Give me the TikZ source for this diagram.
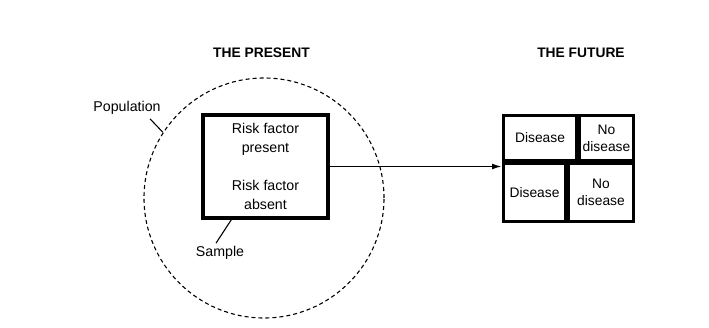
\documentclass[tikz,border=0pt]{standalone}
\usepackage{fontspec}
\setmainfont{Liberation Sans}
\usepackage{tikz}
\usetikzlibrary{arrows.meta, positioning}

\begin{document}
\begin{tikzpicture}[x=1pt, y=-1pt, >={Latex[length=10pt, width=6pt]}, font=\fontsize{14.2}{19}\selectfont]

\useasboundingbox (0,0) rectangle (709,328);

\tikzset{
  heading/.style = {font=\bfseries\fontsize{13.8}{16}\selectfont},
  label/.style = {align=center, inner sep=1pt},
  cellbox/.style = {draw, line width=3pt, align=center, inner sep=1pt, font=\fontsize{13.8}{17}\selectfont},
}

\node[heading] (present-title) at (261.5,53) {THE PRESENT};
\node[heading] (future-title) at (581,53) {THE FUTURE};

% population and sample
\node[draw, circle, dash pattern=on 4pt off 3pt, line width=1.1pt, minimum size=240pt, inner sep=0pt] (population) at (264,198) {};
\node[draw, line width=3.2pt, minimum width=125pt, minimum height=103pt] (sample) at (265.5,166.5) {};
\node[label] (factor-present) at (265.5,139) {Risk factor\\present};
\node[label] (factor-absent) at (265.5,195) {Risk factor\\absent};

\node[label] (population-label) at (127,108) {Population};
\node[label] (sample-label) at (220,253) {Sample};

\draw[line width=1.1pt] ([xshift=23pt, yshift=-3pt]population-label.south) -- (population.147);
\draw[line width=1.1pt] ([xshift=-4pt, yshift=2pt]sample-label.north) -- ([xshift=30pt]sample.south west);

% outcome cells
\begin{scope}[node distance = 0pt]
\node[cellbox, minimum width=73pt, minimum height=45pt, anchor=north west] (disease-top) at (502,114) {Disease};
\node[cellbox, minimum width=54pt, minimum height=45pt, right = of disease-top] (no-disease-top) {No\\disease};
\node[cellbox, minimum width=62pt, minimum height=58pt, anchor=north west] (disease-bottom) at (disease-top.south west) {Disease};
\node[cellbox, minimum width=65pt, minimum height=58pt, right = of disease-bottom] (no-disease-bottom) {No\\disease};
\end{scope}

\draw[->, line width=1.8pt] (sample.east) -- (sample.east -| disease-bottom.west);

\end{tikzpicture}
\end{document}
